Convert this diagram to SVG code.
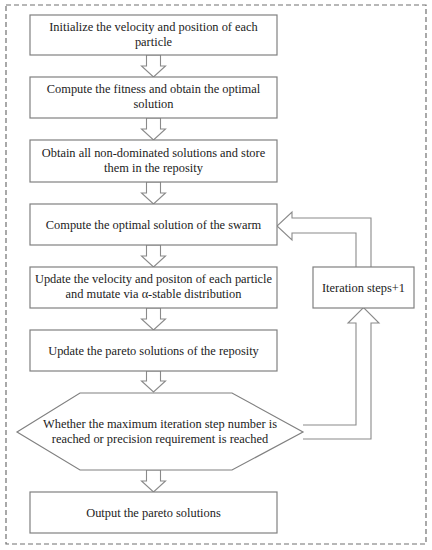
<svg xmlns="http://www.w3.org/2000/svg" width="432" height="550" viewBox="0 0 432 550">
<style>
.box{fill:#fff;stroke:#808080;stroke-width:1.2}
.arr{fill:#fff;stroke:#8a8a8a;stroke-width:1.1}
.t{font-family:"Liberation Serif","Times New Roman",serif;font-size:12.4px;fill:#222;text-anchor:middle}
</style>
<rect width="432" height="550" fill="#fff"/>
<rect x="6" y="5" width="420" height="539" fill="none" stroke="#707070" stroke-width="1.2" stroke-dasharray="5,3"/>
<g id="connectors">
<polygon class="arr" points="146.5,55 160.5,55 160.5,66 165.5,66 153.5,77 141.5,66 146.5,66"/>
<polygon class="arr" points="146.5,118 160.5,118 160.5,129 165.5,129 153.5,140 141.5,129 146.5,129"/>
<polygon class="arr" points="146.5,182 160.5,182 160.5,193 165.5,193 153.5,204 141.5,193 146.5,193"/>
<polygon class="arr" points="146.5,245 160.5,245 160.5,256 165.5,256 153.5,267 141.5,256 146.5,256"/>
<polygon class="arr" points="146.5,308 160.5,308 160.5,319 165.5,319 153.5,330 141.5,319 146.5,319"/>
<polygon class="arr" points="146.5,371 160.5,371 160.5,381 165.5,381 153.5,392 141.5,381 146.5,381"/>
<polygon class="arr" points="146.5,470 160.5,470 160.5,481 165.5,481 153.5,492 141.5,481 146.5,481"/>
<path class="arr" d="M303,425 L356,425 L356,323 L348,323 L363.5,307.5 L379,323 L371,323 L371,439 L303,439"/>
<path class="arr" d="M356,267 L356,233 L292,233 L292,240 L277,226 L292,212 L292,218 L371,218 L371,267"/>
</g>
<g id="n1"><rect class="box" x="30" y="15" width="247" height="40"/><text class="t" x="153.5" y="31">Initialize the velocity and position of each</text><text class="t" x="153.5" y="46">particle</text></g>
<g id="n2"><rect class="box" x="30" y="77" width="247" height="41"/><text class="t" x="153.5" y="93">Compute the fitness and obtain the optimal</text><text class="t" x="153.5" y="108">solution</text></g>
<g id="n3"><rect class="box" x="30" y="140" width="247" height="42"/><text class="t" x="153.5" y="157">Obtain all non-dominated solutions and store</text><text class="t" x="153.5" y="172">them in the reposity</text></g>
<g id="n4"><rect class="box" x="30" y="204" width="247" height="41"/><text class="t" x="153.5" y="229">Compute the optimal solution of the swarm</text></g>
<g id="n5"><rect class="box" x="30" y="267" width="247" height="41"/><text class="t" x="153.5" y="283">Update the velocity and positon of each particle</text><text class="t" x="153.5" y="298">and mutate via α-stable distribution</text></g>
<g id="n6"><rect class="box" x="30" y="330" width="247" height="41"/><text class="t" x="153.5" y="355">Update the pareto solutions of the reposity</text></g>
<g id="n7"><polygon class="box" points="17,432 80,393 232,393 303,432 232,470 80,470"/><text class="t" x="160" y="428">Whether the maximum iteration step number is</text><text class="t" x="160" y="443">reached or precision requirement is reached</text></g>
<g id="n8"><rect class="box" x="30" y="492" width="247" height="41"/><text class="t" x="153.5" y="517">Output the pareto solutions</text></g>
<g id="n9"><rect class="box" x="313" y="267" width="101" height="41"/><text class="t" x="363.5" y="292">Iteration steps+1</text></g>
</svg>
